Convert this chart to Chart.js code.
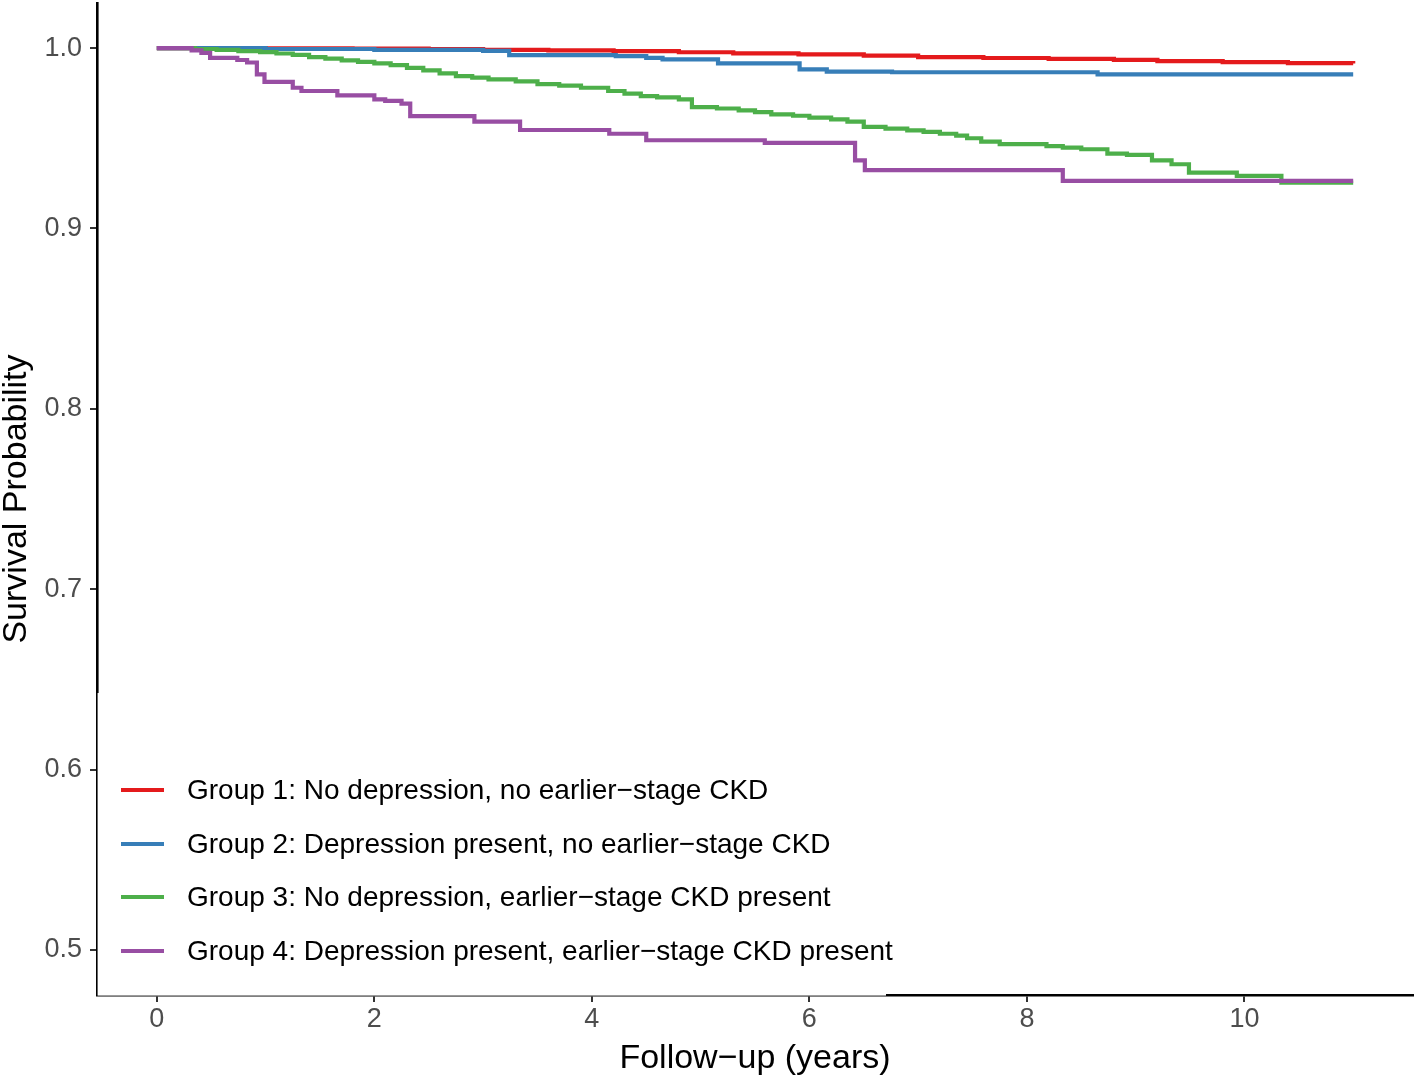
<!DOCTYPE html>
<html>
<head>
<meta charset="utf-8">
<script src="https://cdn.jsdelivr.net/npm/chart.js@4/dist/chart.umd.min.js"></script>
<style>
  html, body { margin: 0; padding: 0; background: #ffffff; }
  #wrap { width: 1416px; height: 1081px; position: relative; }
</style>
</head>
<body>
<div id="wrap"><canvas id="c" width="1416" height="1081"></canvas></div>
<script>
// ---- Data ----
const groupLabels = [
  "Group 1: No depression, no earlier\u2212stage CKD",
  "Group 2: Depression present, no earlier\u2212stage CKD",
  "Group 3: No depression, earlier\u2212stage CKD present",
  "Group 4: Depression present, earlier\u2212stage CKD present"
];
const groupColors = ["#E41A1C", "#377EB8", "#4DAF4A", "#984EA3"];

// Group 1: times (years) and survival after each time
const g1Time = [0, 1.0, 1.8, 2.5, 3.0, 3.6, 4.2, 4.8, 5.3, 5.9, 6.5, 7.0, 7.6, 8.2, 8.8, 9.2, 9.8, 10.4, 11.0];
const g1Surv = [1.0, 0.9999, 0.9997, 0.9994, 0.9990, 0.9987, 0.9983, 0.9977, 0.9971, 0.9965, 0.9958, 0.9950, 0.9945, 0.9940, 0.9935, 0.9928, 0.9922, 0.9917, 0.9915];

const g2Time = [0, 1.0, 2.0, 3.0, 3.24, 4.22, 4.50, 4.65, 5.16, 5.91, 6.16, 6.76, 8.65, 11.0];
const g2Surv = [1.0, 0.9995, 0.9990, 0.9985, 0.9961, 0.9956, 0.9946, 0.9937, 0.9915, 0.9882, 0.9869, 0.9866, 0.9854, 0.9854];

const g3Time = [0, 0.35, 0.55, 0.75, 0.95, 1.1, 1.25, 1.4, 1.55, 1.7, 1.85, 2.0, 2.15, 2.3, 2.45, 2.6, 2.75, 2.9, 3.05, 3.3, 3.5, 3.7, 3.9, 4.15, 4.3, 4.45, 4.6, 4.8, 4.92, 5.15, 5.35, 5.5, 5.65, 5.85, 6.0, 6.2, 6.35, 6.5, 6.7, 6.9, 7.05, 7.2, 7.35, 7.45, 7.58, 7.75, 8.18, 8.33, 8.5, 8.74, 8.92, 9.15, 9.33, 9.49, 9.93, 10.34, 11.0];
const g3Surv = [1.0, 0.9995, 0.9990, 0.9983, 0.9978, 0.9970, 0.9962, 0.9950, 0.9942, 0.9932, 0.9924, 0.9915, 0.9906, 0.9890, 0.9877, 0.9860, 0.9845, 0.9836, 0.9827, 0.9815, 0.9800, 0.9792, 0.9780, 0.9762, 0.9748, 0.9734, 0.9727, 0.9716, 0.9673, 0.9665, 0.9655, 0.9645, 0.9633, 0.9625, 0.9614, 0.9605, 0.9592, 0.9563, 0.9553, 0.9544, 0.9535, 0.9525, 0.9515, 0.9500, 0.9481, 0.9467, 0.9457, 0.9448, 0.9439, 0.9415, 0.9408, 0.9378, 0.9356, 0.9310, 0.9291, 0.9254, 0.9254];

const g4Time = [0, 0.32, 0.41, 0.49, 0.74, 0.83, 0.92, 0.99, 1.25, 1.33, 1.66, 2.00, 2.10, 2.25, 2.33, 2.92, 3.34, 4.16, 4.50, 5.59, 6.42, 6.51, 8.33, 11.0];
const g4Surv = [1.0, 0.9987, 0.9974, 0.9946, 0.9934, 0.9920, 0.9854, 0.9813, 0.9780, 0.9762, 0.9738, 0.9716, 0.9707, 0.9692, 0.9623, 0.9592, 0.9546, 0.9525, 0.9489, 0.9474, 0.9378, 0.9323, 0.9264, 0.9264];

const xTickValues = [0, 2, 4, 6, 8, 10];
const yTickValues = [0.5, 0.6, 0.7, 0.8, 0.9, 1.0];
const xTitle = "Follow\u2212up (years)";
const yTitle = "Survival Probability";

// ---- Build datasets ----
const times = [g1Time, g2Time, g3Time, g4Time];
const survs = [g1Surv, g2Surv, g3Surv, g4Surv];
const FONT = "'Liberation Sans', Arial, Helvetica, sans-serif";

const datasets = groupLabels.map((lab, i) => ({
  label: lab,
  data: times[i].map((t, j) => ({ x: t, y: survs[i][j] })),
  borderColor: groupColors[i],
  backgroundColor: groupColors[i],
  borderWidth: 4.2,
  stepped: 'before',
  pointRadius: 0,
  fill: false,
  order: 4 - i
}));

// Legend drawn inside the plot, with white box (as in ggplot)
const insideLegend = {
  id: 'insideLegend',
  afterDatasetsDraw(chart) {
    const ctx = chart.ctx;
    ctx.save();
    ctx.fillStyle = '#ffffff';
    ctx.fillRect(97.6, 693, 886 - 97.6, 995.6 - 693);
    ctx.font = "28px " + FONT;
    ctx.textBaseline = 'middle';
    ctx.textAlign = 'left';
    const rows = [790, 844, 897, 951];
    groupLabels.forEach((lab, i) => {
      ctx.strokeStyle = groupColors[i];
      ctx.lineWidth = 4.2;
      ctx.beginPath();
      ctx.moveTo(121, rows[i]);
      ctx.lineTo(164, rows[i]);
      ctx.stroke();
      ctx.fillStyle = '#000000';
      ctx.fillText(lab, 187, rows[i] + 1);
    });
    ctx.restore();
  }
};

new Chart(document.getElementById('c'), {
  type: 'line',
  data: { datasets },
  plugins: [insideLegend],
  options: {
    responsive: false,
    animation: false,
    devicePixelRatio: 1,
    layout: { padding: { top: 3, right: 3, left: 0, bottom: 0 } },
    plugins: { legend: { display: false }, tooltip: { enabled: false } },
    scales: {
      x: {
        type: 'linear',
        min: -0.55,
        max: 11.55,
        afterBuildTicks: (s) => { s.ticks = xTickValues.map(v => ({ value: v })); },
        afterFit: (s) => { s.height = 86; s.paddingLeft = 0; s.paddingRight = 0; },
        border: { display: true, color: '#000000', width: 2.6 },
        grid: { display: true, drawOnChartArea: false, drawTicks: true, tickLength: 7, color: '#333333', lineWidth: 2 },
        ticks: { color: '#4D4D4D', font: { family: FONT, size: 27 }, padding: 1, maxRotation: 0, autoSkip: false,
                 callback: (v) => String(v) },
        title: { display: true, text: xTitle, color: '#000000', font: { family: FONT, size: 34, lineHeight: 1.15 }, padding: { top: 0, bottom: 3 } }
      },
      y: {
        type: 'linear',
        min: 0.475,
        max: 1.025,
        afterBuildTicks: (s) => { s.ticks = yTickValues.map(v => ({ value: v })); },
        afterFit: (s) => { s.width = 97; s.paddingTop = 0; s.paddingBottom = 0; },
        border: { display: true, color: '#000000', width: 2.6 },
        grid: { display: true, drawOnChartArea: false, drawTicks: true, tickLength: 7, color: '#333333', lineWidth: 2 },
        ticks: { color: '#4D4D4D', font: { family: FONT, size: 27 }, padding: 8, autoSkip: false,
                 callback: (v) => Number(v).toFixed(1) },
        title: { display: true, text: yTitle, color: '#000000', font: { family: FONT, size: 34, lineHeight: 1.0 }, padding: { top: 0, bottom: 0 } }
      }
    }
  }
});
</script>
</body>
</html>
